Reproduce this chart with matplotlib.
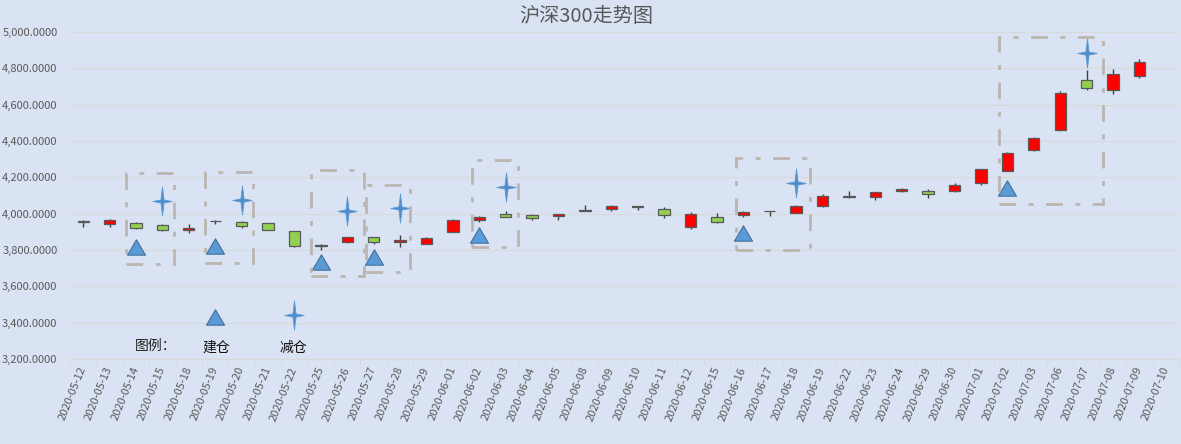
import matplotlib
matplotlib.use('Agg')
import matplotlib.pyplot as plt
import numpy as np
from matplotlib.path import Path
from matplotlib.patches import Rectangle

plt.rcParams['font.family'] = ['Noto Sans CJK SC', 'DejaVu Sans']

# ---------------- data ----------------
dates = ['2020-05-12', '2020-05-13', '2020-05-14', '2020-05-15', '2020-05-18', '2020-05-19',
         '2020-05-20', '2020-05-21', '2020-05-22', '2020-05-25', '2020-05-26', '2020-05-27',
         '2020-05-28', '2020-05-29', '2020-06-01', '2020-06-02', '2020-06-03', '2020-06-04',
         '2020-06-05', '2020-06-08', '2020-06-09', '2020-06-10', '2020-06-11', '2020-06-12',
         '2020-06-15', '2020-06-16', '2020-06-17', '2020-06-18', '2020-06-19', '2020-06-22',
         '2020-06-23', '2020-06-24', '2020-06-29', '2020-06-30', '2020-07-01', '2020-07-02',
         '2020-07-03', '2020-07-06', '2020-07-07', '2020-07-08', '2020-07-09', '2020-07-10']
opens = [3958, 3943, 3949, 3938, 3910, 3958, 3954, 3949, 3905, 3823, 3844, 3870,
         3846, 3833, 3899, 3963, 3998, 3994, 3985, 4017, 4024, 4041, 4026, 3925,
         3982, 3993, 4014, 4004, 4042, 4094, 4090, 4123, 4125, 4123, 4167, 4236,
         4352, 4458, 4734, 4682, 4759, np.nan]
closes = [3956, 3965, 3921, 3910, 3923, 3961, 3932, 3910, 3820, 3826, 3870, 3844,
          3857, 3866, 3965, 3983, 3982, 3974, 3998, 4019, 4044, 4039, 3991, 3998,
          3952, 4011, 4012, 4044, 4097, 4096, 4119, 4136, 4108, 4158, 4246, 4335,
          4418, 4662, 4690, 4767, 4833, np.nan]
highs = [3963, 3968, 3952, 3945, 3941, 3967, 3957, 3950, 3906, 3833, 3872, 3872,
         3884, 3870, 3971, 3989, 4015, 4000, 4000, 4048, 4050, 4042, 4037, 4009,
         4004, 4013, 4015, 4046, 4110, 4125, 4121, 4140, 4136, 4169, 4248, 4337,
         4420, 4673, 4789, 4794, 4849, np.nan]
lows = [3927, 3928, 3918, 3906, 3895, 3945, 3923, 3908, 3817, 3798, 3838, 3835,
        3817, 3831, 3897, 3952, 3980, 3965, 3965, 4016, 4013, 4020, 3974, 3917,
        3950, 3980, 3987, 4002, 4038, 4084, 4076, 4120, 4084, 4121, 4156, 4234,
        4345, 4456, 4682, 4660, 4748, np.nan]

buy_dates = ['2020-05-14', '2020-05-19', '2020-05-25', '2020-05-27', '2020-06-02', '2020-06-16', '2020-07-02']
buy_values = [3818, 3820, 3732, 3761, 3880, 3891, 4140]
sell_dates = ['2020-05-15', '2020-05-20', '2020-05-26', '2020-05-28', '2020-06-03', '2020-06-18', '2020-07-07']
sell_values = [4068, 4073, 4013, 4031, 4147, 4169, 4886]

# highlight frames (first date, last date, value range)
box_first = ['2020-05-14', '2020-05-19', '2020-05-25', '2020-05-27', '2020-06-02', '2020-06-16', '2020-07-02']
box_last = ['2020-05-15', '2020-05-20', '2020-05-26', '2020-05-28', '2020-06-03', '2020-06-18', '2020-07-07']
box_low = [3725, 3728, 3655, 3680, 3817, 3802, 4055]
box_high = [4224, 4230, 4239, 4160, 4294, 4307, 4975]
box_pad_left = [0.37, 0.38, 0.36, 0.29, 0.27, 0.27, 0.33]
box_pad_right = [0.42, 0.43, 0.62, 0.39, 0.47, 0.54, 0.62]

# in-plot legend
legend_buy_date, legend_buy_value = '2020-05-19', 3432
legend_sell_date, legend_sell_value = '2020-05-22', 3440
legend_title = '图例：'
legend_buy_label = '建仓'
legend_sell_label = '减仓'
title = '沪深300走势图'

# ---------------- styling ----------------
BG = '#DAE3F3'
GRID = '#D9D9D9'
TXT = '#595959'
RED = '#FF0000'
GREEN = '#92D050'
EDGE = '#595959'
MBLUE = '#5B9BD5'
MEDGE = '#41719C'

W, H = 1181, 444
fig = plt.figure(figsize=(W / 100, H / 100), dpi=100, facecolor=BG)
ax = fig.add_axes([70 / W, 85 / H, (1179 - 70) / W, (412 - 85) / H])
ax.set_facecolor(BG)

x = np.arange(len(dates))
pos = {d: i for i, d in enumerate(dates)}
o = np.array(opens, float)
c = np.array(closes, float)
hi = np.array(highs, float)
lo = np.array(lows, float)
valid = ~np.isnan(o)

# wicks
ax.vlines(x[valid], lo[valid], hi[valid], color='#404040', lw=1.0, zorder=2)
# bodies
colors = [RED if cc >= oo else GREEN for oo, cc in zip(o[valid], c[valid])]
ax.bar(x[valid], c[valid] - o[valid], bottom=o[valid], width=0.43, color=colors,
       edgecolor=EDGE, linewidth=0.9, zorder=3)

# markers
tri = Path([(-1, -0.85), (1, -0.85), (0, 0.85), (-1, -0.85)],
           [Path.MOVETO, Path.LINETO, Path.LINETO, Path.CLOSEPOLY])
sv = [(0, 1.5), (0.16, 0.16), (1, 0), (0.16, -0.16), (0, -1.5), (-0.16, -0.16),
      (-1, 0), (-0.16, 0.16), (0, 1.5)]
star = Path(sv, [Path.MOVETO] + [Path.LINETO] * 7 + [Path.CLOSEPOLY])

ax.plot([pos[d] for d in buy_dates], buy_values, ls='none', marker=tri, ms=13,
        mfc=MBLUE, mec=MEDGE, mew=0.8, zorder=4)
ax.plot([pos[d] for d in sell_dates], sell_values, ls='none', marker=star, ms=21,
        mfc='#4F8CC9', mec='#5B9BD5', mew=0.6, zorder=4)

# legend inside plot
ax.plot([pos[legend_buy_date]], [legend_buy_value], ls='none', marker=tri, ms=13,
        mfc=MBLUE, mec=MEDGE, mew=0.8, zorder=4)
ax.plot([pos[legend_sell_date]], [legend_sell_value], ls='none', marker=star, ms=21,
        mfc='#4F8CC9', mec='#5B9BD5', mew=0.6, zorder=4)
ax.text(pos[legend_buy_date] - 2.25, 3274, legend_title, ha='center', va='center',
        fontsize=10, color='#222222')
ax.text(pos[legend_buy_date] + 0.05, 3262, legend_buy_label, ha='center', va='center',
        fontsize=10, color='#111111')
ax.text(pos[legend_sell_date] - 0.05, 3262, legend_sell_label, ha='center', va='center',
        fontsize=10, color='#111111')

# highlight frames
for f, l, bl, bh, pl, pr in zip(box_first, box_last, box_low, box_high, box_pad_left, box_pad_right):
    x0 = pos[f] - pl
    x1 = pos[l] + pr
    ax.add_patch(Rectangle((x0, bl), x1 - x0, bh - bl, fill=False, edgecolor='#BBB6B1',
                           lw=2.0, linestyle=(0, (6, 4.5, 1.8, 4.5)), zorder=5))

# axes
ax.set_xlim(-0.5, len(dates) - 0.5)
ax.set_ylim(3200, 5000)
ax.set_yticks(np.arange(3200, 5001, 200))
ax.yaxis.set_major_formatter(matplotlib.ticker.FuncFormatter(lambda v, p: f'{v:,.4f}'))
ax.grid(axis='y', color=GRID, lw=0.8, zorder=0)
ax.set_axisbelow(True)
for s in ['top', 'right', 'left']:
    ax.spines[s].set_visible(False)
ax.spines['bottom'].set_color(GRID)
ax.spines['bottom'].set_linewidth(0.8)

ax.set_xticks(x)
ax.set_xticklabels(dates, rotation=68, ha='right', va='center', rotation_mode='anchor',
                   fontsize=8, color=TXT)
ax.set_xticks(np.arange(-0.5, len(dates), 1), minor=True)
ax.tick_params(axis='x', which='major', length=0, pad=6)
ax.tick_params(axis='x', which='minor', length=4, color=GRID, width=0.8)
ax.tick_params(axis='y', length=0, pad=9, labelsize=8, labelcolor=TXT)

fig.text(586 / W, 1 - 16 / H, title, ha='center', va='center', fontsize=14.5, color=TXT)

fig.savefig('out.png', dpi=100, facecolor=BG)
